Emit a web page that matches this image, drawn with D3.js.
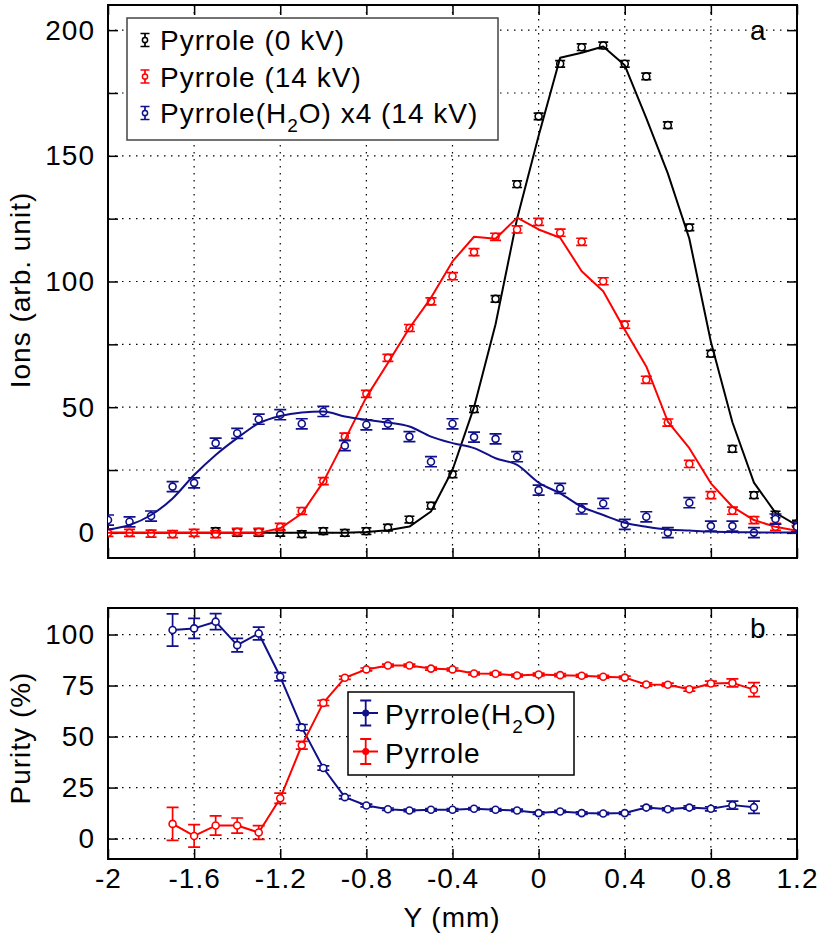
<!DOCTYPE html>
<meta charset="utf-8">
<style>
body { margin: 0; background: #fff; }
svg text {
  font-family: "Liberation Sans", Arial, Helvetica, sans-serif;
  font-size: 28px;
  letter-spacing: 1px;
  fill: #000;
}
.grid line { stroke: #000; stroke-width: 1.2; stroke-dasharray: 1.5,5.5; }
.axis path.domain { display: none; }
.axis line { stroke: #000; stroke-width: 1.5; }
.frame { fill: none; stroke: #000; stroke-width: 2; }
</style>
<body>

<svg class="chart js-chart"></svg>

<script src="https://d3js.org/d3.v7.min.js"></script>
<script type="text/javascript">
"use strict";

// ---- panel a : ion signal vs Y ----
var xA = [-2.0, -1.9, -1.8, -1.7, -1.6, -1.5, -1.4, -1.3, -1.2, -1.1, -1.0, -0.9, -0.8, -0.7, -0.6, -0.5, -0.4,
  -0.3, -0.2, -0.1, 0.0, 0.1, 0.2, 0.3, 0.4, 0.5, 0.6, 0.7, 0.8, 0.9, 1.0, 1.1, 1.2];
var xBlack = [-1.5, -1.4, -1.3, -1.2, -1.1, -1.0, -0.9, -0.8, -0.7, -0.6, -0.5, -0.4, -0.3, -0.2,
  -0.1, 0.0, 0.1, 0.2, 0.3, 0.4, 0.5, 0.6, 0.7, 0.8, 0.9, 1.0, 1.1, 1.2];

var pyrrole0kV = [0.7, 0, 0, 0, -0.5, 0.7, 0, 0.7, 2.1, 5.3, 10.8, 23.3, 49.2, 93.1,
  138.7, 165.7, 186.6, 193.2, 193.9, 186.6, 181.6, 162.2, 121.5, 71.3, 33.4, 15.0, 7.3, 3.7];
var pyrrole14kV = [0, 0, -0.3, -0.5, 0, -0.5, 0.4, 0.4, 2.4, 8.7, 20.6, 38.3, 55.3, 69.6, 81.5, 92.1, 102.1,
  111.7, 117.8, 120.7, 123.7, 119.4, 115.8, 100.1, 82.8, 60.9, 43.9, 27.4, 15.0, 8.8, 5.1, 2.4, 1.5];
var pyrroleH2O = [5.1, 4.4, 6.7, 18.4, 19.9, 35.7, 39.6, 45.2, 47, 43.4, 48.3, 34.7, 43, 43.4, 38.3, 28.3, 43.4,
  38.1, 37.4, 30.3, 17.0, 17.7, 9.5, 11.7, 3.4, 6.4, 0.1, 12, 2.7, 2.7, 0.1, 5.5, 2.4];

var fit0kV = [0, 0, 0, 0, 0, 0, 0, 0, 0, 0, 0, 0, 0.3, 1.0, 2.5, 8.5, 25,
  50, 83, 125, 158, 189, 191, 193.5, 186, 165, 143, 117, 76, 44, 20, 8, 3];
var fit14kV = [0, 0, 0, 0, 0, 0, 0, 0, 1.8, 7.7, 20.3, 37, 54, 67.6, 81.5, 93.5, 108,
  117.8, 117, 125.4, 120.7, 117.4, 104.1, 96.1, 80.8, 66.2, 44.3, 33.7, 19.7, 10.4, 5.1, 2.4, 0.8];
var fitH2O = [1.3, 3.1, 7.1, 13.7, 23, 31, 37.7, 43.6, 46.5, 47.9, 48.3, 46.3, 45, 43.9, 42.3, 38.3, 35.7,
  33.7, 29.7, 27, 20, 15.7, 10.4, 7.1, 4, 2.4, 1.3, 0.9, 0.5, 0.3, 0.2, 0.1, 0.1];

var err0kV = 1.3, err14kV = 1.4, errH2O = 2;
var namesA = ["Pyrrole (0 kV)", "Pyrrole (14 kV)", "Pyrrole(H_2O) x4 (14 kV)"];

// ---- panel b : purity ----
var xB = [-1.7, -1.6, -1.5, -1.4, -1.3, -1.2, -1.1, -1.0, -0.9, -0.8, -0.7, -0.6,
  -0.5, -0.4, -0.3, -0.2, -0.1, 0.0, 0.1, 0.2, 0.3, 0.4, 0.5, 0.6, 0.7, 0.8, 0.9, 1.0];
var purityH2O = [102.2, 103, 106.3, 94.8, 100.5, 79.3, 54.5, 34.6, 20.3, 16.2, 14.4, 13.8,
  14.1, 14.1, 14.6, 14.1, 13.8, 12.5, 13.3, 12.5, 12.3, 12.5, 15.2, 14.4, 15.2, 14.6, 16.4, 15.4];
var purityH2OErr = [7.9, 4.9, 3.9, 3.3, 3.1, 2, 1.4, 1, 0.8, 0.7, 0.6, 0.6,
  0.6, 0.6, 0.6, 0.6, 0.6, 0.6, 0.6, 0.6, 0.6, 0.6, 0.7, 0.7, 0.8, 1, 2, 3];
var purityPyr = [7.2, 1.3, 6.4, 6.4, 3, 19.8, 45.7, 66.5, 78.8, 82.9, 84.8, 84.8,
  83.3, 82.9, 80.9, 80.8, 79.9, 80.4, 80.1, 79.8, 79.3, 78.9, 75.5, 75.4, 73.2, 76, 76.3, 73];
var purityPyrErr = [8.1, 5.5, 4.7, 3.7, 3.4, 2.5, 1.9, 1.3, 0.8, 0.7, 0.7, 0.7,
  0.7, 0.7, 0.7, 0.7, 0.7, 0.7, 0.7, 0.7, 0.7, 0.7, 0.8, 0.8, 0.9, 1.2, 2, 3.4];
var namesB = ["Pyrrole(H_2O)", "Pyrrole"];

var xTicks = [-2, -1.6, -1.2, -0.8, -0.4, 0, 0.4, 0.8, 1.2];
var yTicksA = [0, 25, 50, 75, 100, 125, 150, 175, 200];
var yLabelsA = [0, 50, 100, 150, 200];
var yTicksB = [0, 25, 50, 75, 100];

var black = "#000000", red = "#ff0000", blue = "#10108a";

var width = 827, height = 941;
var left = 108, right = 797;
var topA = 5, bottomA = 558, topB = 608, bottomB = 859;

var x = d3.scaleLinear().domain([-2, 1.2]).range([left, right]);
var yA = d3.scaleLinear().domain([-10, 210]).range([bottomA, topA]);
var yB = d3.scaleLinear().domain([-10, 113]).range([bottomB, topB]);

var fmt = function (d) { return String(+d.toFixed(1)); };

var svg = d3.select('.js-chart')
  .attr('width', width)
  .attr('height', height);

function panel (y, top, bottom, yTicks, yLabels, xLabels) {
  var g = svg.append('g');
  var grid = g.append('g').attr('class', 'grid');
  grid.selectAll('.gx').data(xTicks.slice(1, -1)).enter().append('line')
    .attr('x1', function (d) { return x(d); }).attr('x2', function (d) { return x(d); })
    .attr('y1', top).attr('y2', bottom);
  grid.selectAll('.gy').data(yTicks).enter().append('line')
    .attr('x1', left).attr('x2', right)
    .attr('y1', function (d) { return y(d); }).attr('y2', function (d) { return y(d); });

  g.append('g').attr('class', 'axis').attr('transform', 'translate(' + left + ',0)')
    .call(d3.axisLeft(y).tickValues(yTicks).tickSize(-10).tickPadding(13)
      .tickFormat(function (d) { return yLabels.indexOf(d) >= 0 ? d : ''; }));
  g.append('g').attr('class', 'axis').attr('transform', 'translate(' + right + ',0)')
    .call(d3.axisRight(y).tickValues(yTicks).tickSize(-10).tickFormat(''));
  g.append('g').attr('class', 'axis').attr('transform', 'translate(0,' + top + ')')
    .call(d3.axisTop(x).tickValues(xTicks).tickSize(-10).tickFormat(''));
  g.append('g').attr('class', 'axis').attr('transform', 'translate(0,' + bottom + ')')
    .call(d3.axisBottom(x).tickValues(xTicks).tickSize(-10).tickPadding(9)
      .tickFormat(xLabels ? fmt : ''));

  g.append('rect').attr('class', 'frame')
    .attr('x', left).attr('y', top)
    .attr('width', right - left).attr('height', bottom - top);
  return g;
}

function fitLine (g, xs, vs, y, color, curve) {
  g.append('path')
    .datum(xs.map(function (d, i) { return [d, vs[i]]; }))
    .attr('fill', 'none')
    .attr('stroke', color)
    .attr('stroke-width', 2)
    .attr('stroke-linejoin', 'round')
    .attr('d', d3.line()
      .x(function (d) { return x(d[0]); })
      .y(function (d) { return y(d[1]); })
      .curve(curve || d3.curveLinear));
}

function points (g, xs, vs, es, y, color, cap) {
  var data = xs.map(function (d, i) {
    return { x: d, v: vs[i], e: Array.isArray(es) ? es[i] : es };
  });
  var s = g.append('g');
  s.selectAll('path').data(data).enter().append('path')
    .attr('fill', 'none')
    .attr('stroke', color)
    .attr('stroke-width', 1.7)
    .attr('d', function (p) {
      var cx = x(p.x), y0 = y(p.v - p.e), y1 = y(p.v + p.e);
      return 'M' + cx + ',' + y0 + 'V' + y1 +
        'M' + (cx - cap) + ',' + y0 + 'H' + (cx + cap) +
        'M' + (cx - cap) + ',' + y1 + 'H' + (cx + cap);
    });
  s.selectAll('circle').data(data).enter().append('circle')
    .attr('cx', function (p) { return x(p.x); })
    .attr('cy', function (p) { return y(p.v); })
    .attr('r', 3.5)
    .attr('fill', '#fff')
    .attr('stroke', color)
    .attr('stroke-width', 1.6);
}

function label (text, str) {
  var parts = str.split('_');
  text.append('tspan').text(parts[0]);
  if (parts.length > 1) {
    text.append('tspan').attr('dy', 9).style('font-size', '19px').text(parts[1].charAt(0));
    text.append('tspan').attr('dy', -9).text(parts[1].slice(1));
  }
}

// panel a
var gA = panel(yA, topA, bottomA, yTicksA, yLabelsA, false);
svg.append('clipPath').attr('id', 'clipA').append('rect')
  .attr('x', left).attr('y', topA).attr('width', right - left).attr('height', bottomA - topA);
var dataA = gA.append('g').attr('clip-path', 'url(#clipA)');
points(dataA, xBlack, pyrrole0kV, err0kV, yA, black, 5);
fitLine(dataA, xA, fit0kV, yA, black);
points(dataA, xA, pyrrole14kV, err14kV, yA, red, 5.5);
fitLine(dataA, xA, fit14kV, yA, red);
points(dataA, xA, pyrroleH2O, errH2O, yA, blue, 6);
fitLine(dataA, xA, fitH2O, yA, blue, d3.curveMonotoneX);

var legA = gA.append('g');
legA.append('rect').attr('x', 127).attr('y', 18).attr('width', 371).attr('height', 122)
  .attr('fill', '#fff').attr('stroke', '#444').attr('stroke-width', 1.5);
[black, red, blue].forEach(function (c, i) {
  var cy = 40 + i * 36.5;
  legA.append('path').attr('fill', 'none').attr('stroke', c).attr('stroke-width', 1.7)
    .attr('d', 'M145,' + (cy - 6.5) + 'V' + (cy + 6.5) + 'M140.5,' + (cy - 6.5) + 'H149.5M140.5,' + (cy + 6.5) + 'H149.5');
  legA.append('circle').attr('cx', 145).attr('cy', cy).attr('r', 2.6)
    .attr('fill', '#fff').attr('stroke', c).attr('stroke-width', 1.5);
  label(legA.append('text').attr('x', 160).attr('y', cy + 10), namesA[i]);
});
gA.append('text').attr('x', 750).attr('y', 40).text('a');

// panel b
var gB = panel(yB, topB, bottomB, yTicksB, yTicksB, true);
fitLine(gB, xB, purityH2O, yB, blue);
points(gB, xB, purityH2O, purityH2OErr, yB, blue, 6);
fitLine(gB, xB, purityPyr, yB, red);
points(gB, xB, purityPyr, purityPyrErr, yB, red, 6);

var legB = gB.append('g');
legB.append('rect').attr('x', 348).attr('y', 692).attr('width', 226).attr('height', 83)
  .attr('fill', '#fff').attr('stroke', '#000').attr('stroke-width', 1.5);
[blue, red].forEach(function (c, i) {
  var cy = 713 + i * 38.5;
  legB.append('path').attr('fill', 'none').attr('stroke', c).attr('stroke-width', 1.8)
    .attr('d', 'M353,' + cy + 'H378M365.7,' + (cy - 12.5) + 'V' + (cy + 12.5) +
      'M360.2,' + (cy - 12.5) + 'H371.2M360.2,' + (cy + 12.5) + 'H371.2');
  legB.append('circle').attr('cx', 365.7).attr('cy', cy).attr('r', 3.5).attr('fill', c);
  label(legB.append('text').attr('x', 385).attr('y', cy + 11), namesB[i]);
});
gB.append('text').attr('x', 750).attr('y', 638).text('b');

// axis titles
svg.append('text').attr('text-anchor', 'middle')
  .attr('transform', 'translate(30,290) rotate(-90)')
  .text('Ions (arb. unit)');
svg.append('text').attr('text-anchor', 'middle')
  .attr('transform', 'translate(30,738) rotate(-90)')
  .text('Purity (%)');
svg.append('text').attr('text-anchor', 'middle')
  .attr('x', 452).attr('y', 927)
  .text('Y (mm)');
</script>
</body>
